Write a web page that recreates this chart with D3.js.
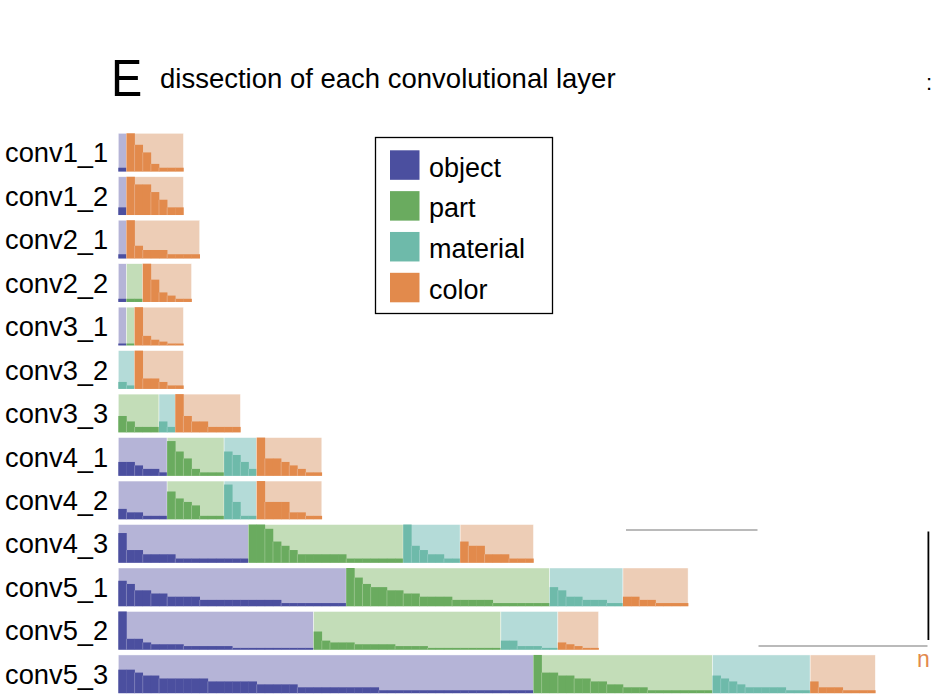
<!DOCTYPE html>
<html>
<head>
<meta charset="utf-8">
<script src="https://cdn.jsdelivr.net/npm/d3@7"></script>
<style>
  body { margin: 0; background: #fff; }
  text { font-family: 'Liberation Sans', Arial, Helvetica, sans-serif; }
</style>
</head>
<body>
<div id="vis"></div>
<script>
// layers of the network, top to bottom
const layers = ['conv1_1', 'conv1_2', 'conv2_1', 'conv2_2', 'conv3_1', 'conv3_2', 'conv3_3',
  'conv4_1', 'conv4_2', 'conv4_3', 'conv5_1', 'conv5_2', 'conv5_3'];

const categories = ['object', 'part', 'material', 'color'];

// number of units per detected concept, sorted, one list per layer
const objectCounts = [
  [1], [2], [1], [1], [1], [], [],
  [4, 4, 3, 2, 2, 1],
  [3, 2, 2, 1, 1, 1],
  [7, 3, 3, 2, 2, 2, 2, 1, 1, 1, 1, 1, 1, 1, 1, 1],
  [8, 7, 5, 5, 4, 4, 3, 3, 3, 3, 2, 2, 2, 2, 2, 2, 2, 2, 2, 2, 1, 1, 1, 1, 1, 1, 1, 1],
  [21, 6, 6, 4, 3, 3, 3, 3, 2, 2, 2, 2, 2, 2, 1, 1, 1, 1, 1, 1, 1, 1, 1, 1],
  [8, 8, 7, 6, 6, 5, 5, 5, 5, 5, 5, 4, 4, 4, 4, 4, 4, 3, 3, 3, 3, 3,
    2, 2, 2, 2, 2, 2, 2, 2, 2, 2,
    1, 1, 1, 1, 1, 1, 1, 1, 1, 1, 1, 1, 1, 1, 1, 1, 1, 1, 1]
];
const partCounts = [
  [], [], [], [1, 1], [1], [],
  [3, 2, 1, 1, 1],
  [10, 7, 5, 2, 1, 1, 1],
  [8, 6, 5, 4, 1, 1, 1],
  [9, 9, 8, 5, 4, 3, 2, 2, 2, 2, 2, 2, 1, 1, 1, 1, 1, 1, 1],
  [12, 9, 7, 6, 6, 5, 5, 4, 4, 3, 3, 3, 3, 2, 2, 2, 2, 2, 1, 1, 1, 1, 1, 1, 1],
  [10, 5, 4, 4, 4, 3, 3, 3, 3, 3, 2, 2, 2, 2, 1, 1, 1, 1, 1, 1, 1, 1, 1],
  [13, 7, 7, 6, 6, 5, 5, 4, 4, 3, 3, 2, 2, 2, 1, 1, 1, 1, 1, 1, 1, 1]
];
const materialCounts = [
  [], [], [], [], [],
  [2, 1],
  [2, 1],
  [7, 6, 4, 2],
  [10, 5, 1, 1],
  [9, 4, 3, 2, 2, 1, 1],
  [6, 5, 3, 3, 2, 2, 2, 1, 1],
  [5, 5, 2, 2, 2, 1, 1],
  [6, 5, 4, 3, 2, 2, 2, 2, 2, 1, 1, 1]
];
const colorCounts = [
  [10, 7, 5, 2, 1, 1, 1],
  [10, 8, 8, 6, 4, 2, 2],
  [9, 3, 2, 2, 2, 1, 1, 1, 1],
  [12, 7, 3, 2, 1, 1],
  [20, 5, 3, 2, 1, 1],
  [11, 3, 3, 2, 1, 1],
  [7, 3, 2, 2, 1, 1, 1, 1],
  [11, 5, 5, 4, 3, 2, 1, 1],
  [11, 5, 5, 5, 2, 2, 1, 1],
  [5, 4, 4, 2, 2, 2, 1, 1, 1],
  [3, 3, 2, 2, 1, 1, 1, 1],
  [4, 3, 2, 1, 1],
  [4, 2, 2, 2, 1, 1, 1, 1]
];

const darkColors = { object: '#4b4f9f', part: '#6aab5f', material: '#6ebaaa', color: '#e28a4c' };
const lightColors = { object: '#b5b4d7', part: '#c3ddb8', material: '#b4dbd8', color: '#edcdb6' };

const width = 933, height = 698;

const svg = d3
  .select('#vis')
  .append('svg')
  .attr('width', width)
  .attr('height', height)
  .attr('viewBox', [0, 0, width, height].join(' '));

// rows
const yScale = d3
  .scaleBand()
  .domain(layers)
  .range([133.3, 693.2])
  .paddingInner(0.12)
  .paddingOuter(0)
  .align(0);

// one band unit per concept
const xScale = d3.scaleLinear().domain([0, 93]).range([118.3, 875.3]);

const countsBy = { object: objectCounts, part: partCounts, material: materialCounts, color: colorCounts };

layers.forEach((layer, i) => {
  const row = svg.append('g').attr('class', 'row');
  const top = yScale(layer);
  const bw = yScale.bandwidth();
  const rowMax = d3.max(categories, (c) => d3.max(countsBy[c][i]) || 0);
  const hScale = d3.scaleLinear().domain([0, rowMax]).range([0, bw]);

  let offset = 0;
  categories.forEach((c) => {
    const counts = countsBy[c][i];
    if (!counts.length) return;
    const start = offset;

    row
      .append('rect')
      .attr('x', xScale(start))
      .attr('y', top)
      .attr('width', xScale(start + counts.length) - xScale(start))
      .attr('height', bw)
      .style('fill', lightColors[c])
      .style('stroke', '#fff')
      .style('stroke-width', 0.6)
      .style('stroke-opacity', 0.7);

    row
      .selectAll(null)
      .data(counts)
      .enter()
      .append('rect')
      .attr('x', (d, j) => xScale(start + j))
      .attr('y', (d) => top + bw - hScale(d))
      .attr('width', xScale(1) - xScale(0) + 0.3)
      .attr('height', (d) => hScale(d))
      .style('fill', darkColors[c]);

    // faint lines where the step goes down
    row
      .selectAll(null)
      .data(counts.slice(1).map((d, j) => ({ j: j + 1, prev: counts[j], h: d })).filter((s) => s.h < s.prev))
      .enter()
      .append('line')
      .attr('x1', (s) => xScale(start + s.j))
      .attr('x2', (s) => xScale(start + s.j))
      .attr('y1', (s) => top + bw - hScale(s.h))
      .attr('y2', top + bw)
      .style('stroke', lightColors[c])
      .style('stroke-width', 0.7)
      .style('stroke-opacity', 0.6);

    offset += counts.length;
  });

  svg
    .append('text')
    .attr('x', 5)
    .attr('y', top + bw / 2 + 9.8)
    .style('font-size', '27.3px')
    .style('fill', '#000')
    .text(layer);
});

// title
svg
  .append('text')
  .attr('x', 111)
  .attr('y', 96.5)
  .attr('transform', 'translate(111,96.5) scale(0.9,1) translate(-111,-96.5)')
  .style('font-size', '52px')
  .text('E');

svg
  .append('text')
  .attr('x', 160)
  .attr('y', 88)
  .style('font-size', '27.5px')
  .text('dissection of each convolutional layer');

// legend
const legend = svg.append('g').attr('class', 'legend');
legend
  .append('rect')
  .attr('x', 375.5)
  .attr('y', 137.5)
  .attr('width', 177)
  .attr('height', 176)
  .style('fill', '#fff')
  .style('stroke', '#000')
  .style('stroke-width', 1.3);

const legendY = d3.scalePoint().domain(categories).range([165, 287.5]);

legend
  .selectAll(null)
  .data(categories)
  .enter()
  .append('rect')
  .attr('x', 390)
  .attr('y', (d) => legendY(d) - 14.7)
  .attr('width', 29.5)
  .attr('height', 29.5)
  .style('fill', (d) => darkColors[d]);

legend
  .selectAll(null)
  .data(categories)
  .enter()
  .append('text')
  .attr('x', 429)
  .attr('y', (d) => legendY(d) + 11.5)
  .style('font-size', '27px')
  .text((d) => d);

// fragments of the neighbouring panel cut by the crop
const edge = svg.append('g').attr('class', 'edge');
edge.append('line').attr('x1', 626).attr('x2', 757.5).attr('y1', 530).attr('y2', 530)
  .style('stroke', '#777').style('stroke-width', 1.2);
edge.append('line').attr('x1', 758.5).attr('x2', 927.5).attr('y1', 646).attr('y2', 646)
  .style('stroke', '#777').style('stroke-width', 1.2);
edge.append('line').attr('x1', 928.4).attr('x2', 928.4).attr('y1', 531.5).attr('y2', 640)
  .style('stroke', '#000').style('stroke-width', 1.8);
edge.append('text').attr('x', 917).attr('y', 667).style('font-size', '23px')
  .style('fill', '#e28a4c').text('n');
edge.append('text').attr('x', 926).attr('y', 90).style('font-size', '22px').text(':');
</script>
</body>
</html>
